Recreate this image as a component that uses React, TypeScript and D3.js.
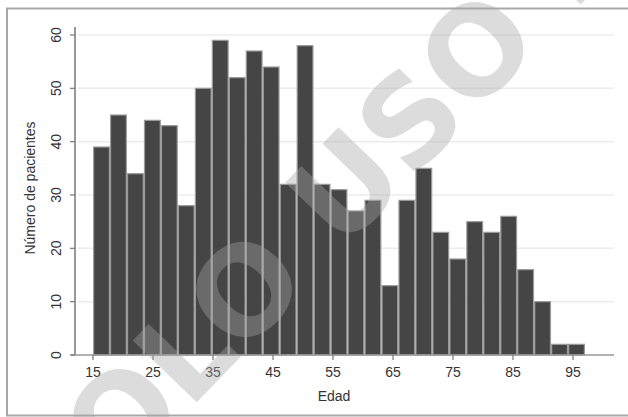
import React from 'react';
import * as d3 from 'd3';

// histogram of patient ages, 29 bins between 15 and 97
const binStart = 15;
const binEnd = 97;
const counts = [39, 45, 34, 44, 43, 28, 50, 59, 52, 57, 54, 32, 58, 32, 31, 27, 29, 13, 29, 35, 23, 18, 25, 23, 26, 16, 10, 2, 2];
const xTicks = [15, 25, 35, 45, 55, 65, 75, 85, 95];
const yTicks = [0, 10, 20, 30, 40, 50, 60];
const xTitle = 'Edad';
const yTitle = 'Número de pacientes';
const watermark = 'SOLO USO PROFESIONAL';

export default function App() {
  const width = 628;
  const height = 417;

  const x = d3.scaleLinear().domain([binStart, binEnd]).range([93, 585]);
  const y = d3.scaleLinear().domain([0, 60]).range([355, 35]);
  const binW = (binEnd - binStart) / counts.length;

  const font = 'Liberation Sans, Arial, sans-serif';

  return (
    <svg width={width} height={height} style={{ position: 'absolute', left: 0, top: 0 }}>
      <rect x={0} y={0} width={width} height={height} fill="#fff" />
      <rect x={7} y={8.5} width={640} height={407} fill="none" stroke="#a8a8a8" strokeWidth={2} />

      {/* gridlines */}
      {yTicks.filter(t => t > 0).map(t => (
        <line key={'g' + t} x1={78} x2={614} y1={y(t)} y2={y(t)} stroke="#ececec" strokeWidth={1.5} />
      ))}

      {/* bars */}
      {counts.map((c, i) => {
        const x0 = x(binStart + i * binW);
        const x1 = x(binStart + (i + 1) * binW);
        return (
          <rect key={i} x={x0 + 0.6} y={y(c)} width={x1 - x0 - 1.2} height={y(0) - y(c)}
            fill="#454545" stroke="#9a9a9a" strokeWidth={1.2} />
        );
      })}

      {/* axes */}
      <line x1={75} x2={75} y1={27} y2={355} stroke="#777" strokeWidth={1.5} />
      <line x1={71} x2={614} y1={355} y2={355} stroke="#999" strokeWidth={1.5} />
      {yTicks.map(t => (
        <g key={'y' + t}>
          <line x1={70} x2={75} y1={y(t)} y2={y(t)} stroke="#777" strokeWidth={1.2} />
          <text transform={`translate(57,${y(t)}) rotate(-90)`} textAnchor="middle" dominantBaseline="middle"
            fontFamily={font} fontSize={14} fill="#333">{t}</text>
        </g>
      ))}
      {xTicks.map(t => (
        <g key={'x' + t}>
          <line x1={x(t)} x2={x(t)} y1={355} y2={360} stroke="#777" strokeWidth={1.2} />
          <text x={x(t)} y={377} textAnchor="middle" fontFamily={font} fontSize={14} fill="#333">{t}</text>
        </g>
      ))}
      <text x={334} y={401} textAnchor="middle" fontFamily={font} fontSize={14} fill="#333">{xTitle}</text>
      <text transform="translate(31,188) rotate(-90)" textAnchor="middle" dominantBaseline="middle"
        fontFamily={font} fontSize={14} fill="#333">{yTitle}</text>

      {/* watermark */}
      <text transform="translate(56,548) rotate(-46)" fontFamily="DejaVu Sans, sans-serif" fontWeight="bold"
        fontSize={122} fill="#a5a5a5" fillOpacity={0.39}>{watermark}</text>
    </svg>
  );
}
